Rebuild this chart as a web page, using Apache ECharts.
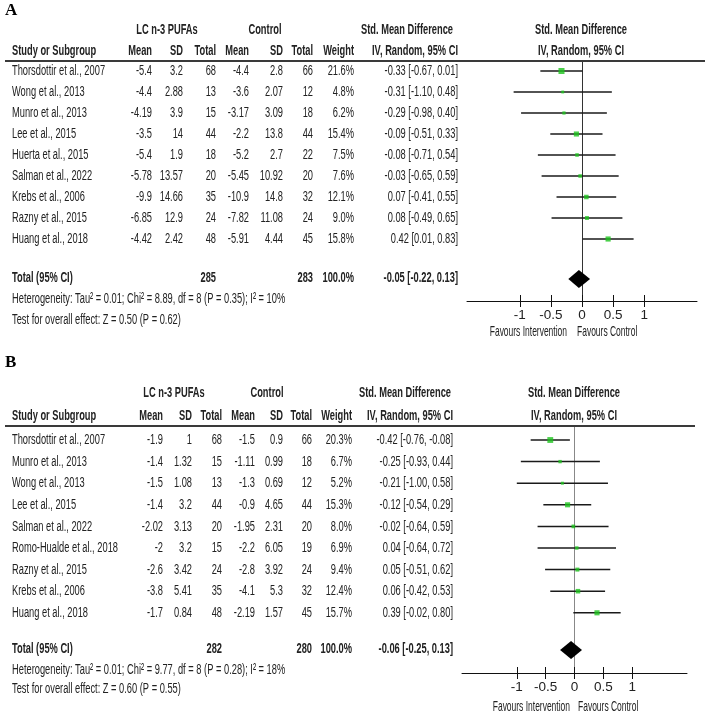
<!DOCTYPE html>
<html><head><meta charset="utf-8">
<script src="https://cdn.jsdelivr.net/npm/echarts@6/dist/echarts.min.js"></script>
<style>html,body{margin:0;padding:0;background:#fff}#c{width:709px;height:716px}</style>
</head><body><div id="c"></div>
<script>
// ---------- Panel A data ----------
const studiesA = ['Thorsdottir et al., 2007','Wong et al., 2013','Munro et al., 2013','Lee et al., 2015','Huerta et al., 2015','Salman et al., 2022','Krebs et al., 2006','Razny et al., 2015','Huang et al., 2018'];
const expMeanA = [-5.4,-4.4,-4.19,-3.5,-5.4,-5.78,-9.9,-6.85,-4.42];
const expSDA   = [3.2,2.88,3.9,14,1.9,13.57,14.66,12.9,2.42];
const expNA    = [68,13,15,44,18,20,35,24,48];
const ctlMeanA = [-4.4,-3.6,-3.17,-2.2,-5.2,-5.45,-10.9,-7.82,-5.91];
const ctlSDA   = [2.8,2.07,3.09,13.8,2.7,10.92,14.8,11.08,4.44];
const ctlNA    = [66,12,18,44,22,20,32,24,45];
const weightA  = [21.6,4.8,6.2,15.4,7.5,7.6,12.1,9.0,15.8];
const smdA     = [-0.33,-0.31,-0.29,-0.09,-0.08,-0.03,0.07,0.08,0.42];
const loA      = [-0.67,-1.10,-0.98,-0.51,-0.71,-0.65,-0.41,-0.49,0.01];
const hiA      = [0.01,0.48,0.40,0.33,0.54,0.59,0.55,0.65,0.83];
const totalA   = {expN:285, ctlN:283, est:-0.05, lo:-0.22, hi:0.13};
const hetA     = 'Heterogeneity: Tau² = 0.01; Chi² = 8.89, df = 8 (P = 0.35); I² = 10%';
const testA    = 'Test for overall effect: Z = 0.50 (P = 0.62)';

// ---------- Panel B data ----------
const studiesB = ['Thorsdottir et al., 2007','Munro et al., 2013','Wong et al., 2013','Lee et al., 2015','Salman et al., 2022','Romo-Hualde et al., 2018','Razny et al., 2015','Krebs et al., 2006','Huang et al., 2018'];
const expMeanB = [-1.9,-1.4,-1.5,-1.4,-2.02,-2,-2.6,-3.8,-1.7];
const expSDB   = [1,1.32,1.08,3.2,3.13,3.2,3.42,5.41,0.84];
const expNB    = [68,15,13,44,20,15,24,35,48];
const ctlMeanB = [-1.5,-1.11,-1.3,-0.9,-1.95,-2.2,-2.8,-4.1,-2.19];
const ctlSDB   = [0.9,0.99,0.69,4.65,2.31,6.05,3.92,5.3,1.57];
const ctlNB    = [66,18,12,44,20,19,24,32,45];
const weightB  = [20.3,6.7,5.2,15.3,8.0,6.9,9.4,12.4,15.7];
const smdB     = [-0.42,-0.25,-0.21,-0.12,-0.02,0.04,0.05,0.06,0.39];
const loB      = [-0.76,-0.93,-1.00,-0.54,-0.64,-0.64,-0.51,-0.42,-0.02];
const hiB      = [-0.08,0.44,0.58,0.29,0.59,0.72,0.62,0.53,0.80];
const totalB   = {expN:282, ctlN:280, est:-0.06, lo:-0.25, hi:0.13};
const hetB     = 'Heterogeneity: Tau² = 0.01; Chi² = 9.77, df = 8 (P = 0.28); I² = 18%';
const testB    = 'Test for overall effect: Z = 0.60 (P = 0.55)';

// ---------- shared labels ----------
const groupLabels = ['LC n-3 PUFAs','Control'];
const colHeaders  = ['Mean','SD','Total','Mean','SD','Total','Weight'];
const tickValues  = [-1,-0.5,0,0.5,1];
const favours     = ['Favours Intervention','Favours Control'];

const FONT = '"Liberation Sans",Arial,sans-serif';
const FS = 15.5;
const NARROW = 0.6;
const TXT = '#222';
const GREEN = '#1ec41e';

// ---------- layout (pixels) ----------
const layoutA = {label:'A', labelY:11, h1:30, h2:51, lineY:61, lineEnd:705, y0:71, rowH:21, totalY:278, hetY:299, testY:320,
  axisY:301, favY:332, cols:[152,183,216,249,283,313,354], ciRight:458, grpC:[167,265], smdC:407,
  fLeft:467, fWidth:230, fMin:-1.85, fMax:1.85, fC:581, favL:567, favR:577, zeroColor:'#333'};
const layoutB = {label:'B', labelY:363, h1:393, h2:416, lineY:426, lineEnd:695, y0:440, rowH:21.6, totalY:649, hetY:670, testY:689,
  axisY:673, favY:707, cols:[163,192,222,255,283,312,352], ciRight:453, grpC:[174,267], smdC:405,
  fLeft:462, fWidth:225, fMin:-1.95, fMax:1.95, fC:574, favL:570, favR:578, zeroColor:'#888'};

const fmt2 = v => v.toFixed(2);
const ciText = (e,l,h) => fmt2(e) + ' [' + fmt2(l) + ', ' + fmt2(h) + ']';

const option = {animation:false, backgroundColor:'#fff', grid:[], xAxis:[], yAxis:[], series:[]};

function addPanel(L, D) {
  const r = px => (px - L.y0) / L.rowH;
  const items = [];
  const T = (x, px, t, align, bold, extra) => items.push(Object.assign({x, row:r(px), t, align, bold}, extra||{}));
  // panel letter
  items.push({x:5, row:r(L.labelY), t:L.label, align:'left', bold:true, family:'"Liberation Serif","DejaVu Serif",serif', size:17, color:'#000', sx:1});
  // group headers
  T(L.grpC[0], L.h1, groupLabels[0], 'center', true);
  T(L.grpC[1], L.h1, groupLabels[1], 'center', true);
  T(L.smdC, L.h1, 'Std. Mean Difference', 'center', true);
  T(L.fC, L.h1, 'Std. Mean Difference', 'center', true);
  // column headers
  T(12, L.h2, 'Study or Subgroup', 'left', true);
  colHeaders.forEach((h,k) => T(L.cols[k], L.h2, h, 'right', true));
  T(L.ciRight, L.h2, 'IV, Random, 95% CI', 'right', true);
  T(L.fC, L.h2, 'IV, Random, 95% CI', 'center', true);
  // study rows
  D.studies.forEach((s,i) => {
    const row = i;
    items.push({x:12, row, t:s, align:'left'});
    const vals = [D.expMean[i], D.expSD[i], D.expN[i], D.ctlMean[i], D.ctlSD[i], D.ctlN[i], D.weight[i].toFixed(1)+'%'];
    vals.forEach((v,k) => items.push({x:L.cols[k], row, t:String(v), align:'right'}));
    items.push({x:L.ciRight, row, t:ciText(D.smd[i], D.lo[i], D.hi[i]), align:'right'});
  });
  // total
  T(12, L.totalY, 'Total (95% CI)', 'left', true);
  T(L.cols[2], L.totalY, String(D.total.expN), 'right', true);
  T(L.cols[5], L.totalY, String(D.total.ctlN), 'right', true);
  T(L.cols[6], L.totalY, '100.0%', 'right', true);
  T(L.ciRight, L.totalY, ciText(D.total.est, D.total.lo, D.total.hi), 'right', true);
  T(12, L.hetY, D.het, 'left', false);
  T(12, L.testY, D.test, 'left', false);
  T(L.favL, L.favY, favours[0], 'right', false, {size:15, sx:0.565});
  T(L.favR, L.favY, favours[1], 'left', false, {size:15, sx:0.565});

  // table grid (full canvas, row units)
  const gT = option.grid.length;
  option.grid.push({left:0, top:0, width:709, height:716});
  const xT = option.xAxis.length;
  option.xAxis.push({type:'value', gridIndex:gT, min:0, max:709, show:false});
  const yT = option.yAxis.length;
  option.yAxis.push({type:'value', gridIndex:gT, inverse:true, min:r(0), max:r(716), show:false});

  option.series.push({
    type:'custom', xAxisIndex:xT, yAxisIndex:yT, silent:true, z:5,
    data: items.map(it => [it.x, it.row]),
    renderItem: (params, api) => {
      const it = items[params.dataIndex];
      const p = api.coord([api.value(0), api.value(1)]);
      return {type:'text', x:p[0], y:p[1], scaleX:(it.sx||NARROW), style:{
        text:it.t, align:it.align, verticalAlign:'middle',
        fontSize:it.size||FS, fontFamily:it.family||FONT, fontWeight:it.bold?'bold':'normal', fill:it.color||TXT}};
    }
  });
  // header rule
  option.series.push({type:'line', xAxisIndex:xT, yAxisIndex:yT, silent:true, symbol:'none',
    data:[[5, r(L.lineY)],[L.lineEnd, r(L.lineY)]], lineStyle:{color:'#3a3a3a', width:2}});

  // forest grid
  const gF = option.grid.length;
  option.grid.push({left:L.fLeft, width:L.fWidth, top:L.lineY, height:L.axisY - L.lineY});
  const xF = option.xAxis.length;
  option.xAxis.push({type:'value', gridIndex:gF, min:L.fMin, max:L.fMax, position:'bottom',
    axisLine:{show:true, onZero:false, lineStyle:{color:'#111', width:1}},
    axisTick:{show:true, length:6, customValues:tickValues, lineStyle:{color:'#111'}},
    axisLabel:{show:true, customValues:tickValues, margin:7, fontSize:13.5, fontFamily:FONT, color:TXT,
      formatter: v => String(v)},
    splitLine:{show:false}});
  const yF = option.yAxis.length;
  option.yAxis.push({type:'value', gridIndex:gF, inverse:true, min:r(L.lineY), max:r(L.axisY),
    axisLine:{show:true, onZero:true, lineStyle:{color:L.zeroColor, width:1}},
    axisTick:{show:false}, axisLabel:{show:false}, splitLine:{show:false}});
  // twin grid for the upward half of the ticks
  const gF2 = option.grid.length;
  option.grid.push({left:L.fLeft, width:L.fWidth, top:L.lineY, height:L.axisY - L.lineY});
  option.xAxis.push({type:'value', gridIndex:gF2, min:L.fMin, max:L.fMax, position:'bottom',
    axisLine:{show:false, onZero:false}, axisLabel:{show:false}, splitLine:{show:false},
    axisTick:{show:true, inside:true, length:6, customValues:tickValues, lineStyle:{color:'#111'}}});
  option.yAxis.push({type:'value', gridIndex:gF2, min:0, max:1, show:false});

  // CI lines
  option.series.push({type:'custom', xAxisIndex:xF, yAxisIndex:yF, silent:true, z:3,
    data: D.lo.map((l,i) => [l, D.hi[i], i]),
    renderItem: (params, api) => {
      const a = api.coord([api.value(0), api.value(2)]);
      const b = api.coord([api.value(1), api.value(2)]);
      return {type:'line', shape:{x1:a[0], y1:a[1], x2:b[0], y2:b[1]}, style:{stroke:'#1a1a1a', lineWidth:1.5}};
    }});
  // squares
  option.series.push({type:'scatter', xAxisIndex:xF, yAxisIndex:yF, silent:true, z:4, symbol:'rect',
    data: D.smd.map((s,i) => [s, i, D.weight[i]]),
    symbolSize: v => 1.3*Math.sqrt(v[2]),
    itemStyle:{color:GREEN}});
  // diamond
  option.series.push({type:'custom', xAxisIndex:xF, yAxisIndex:yF, silent:true, z:4,
    data:[[D.total.est, D.total.lo, D.total.hi, r(L.totalY+1)]],
    renderItem: (params, api) => {
      const row = api.value(3);
      const c = api.coord([api.value(0), row]);
      const l = api.coord([api.value(1), row]);
      const h = api.coord([api.value(2), row]);
      return {type:'polygon', shape:{points:[[l[0],l[1]],[c[0],c[1]-9],[h[0],h[1]],[c[0],c[1]+9]]}, style:{fill:'#000'}};
    }});
}

addPanel(layoutA, {studies:studiesA, expMean:expMeanA, expSD:expSDA, expN:expNA, ctlMean:ctlMeanA, ctlSD:ctlSDA, ctlN:ctlNA,
  weight:weightA, smd:smdA, lo:loA, hi:hiA, total:totalA, het:hetA, test:testA});
addPanel(layoutB, {studies:studiesB, expMean:expMeanB, expSD:expSDB, expN:expNB, ctlMean:ctlMeanB, ctlSD:ctlSDB, ctlN:ctlNB,
  weight:weightB, smd:smdB, lo:loB, hi:hiB, total:totalB, het:hetB, test:testB});

const chart = echarts.init(document.getElementById('c'), null, {renderer:'canvas'});
chart.setOption(option);
</script>
</body></html>
